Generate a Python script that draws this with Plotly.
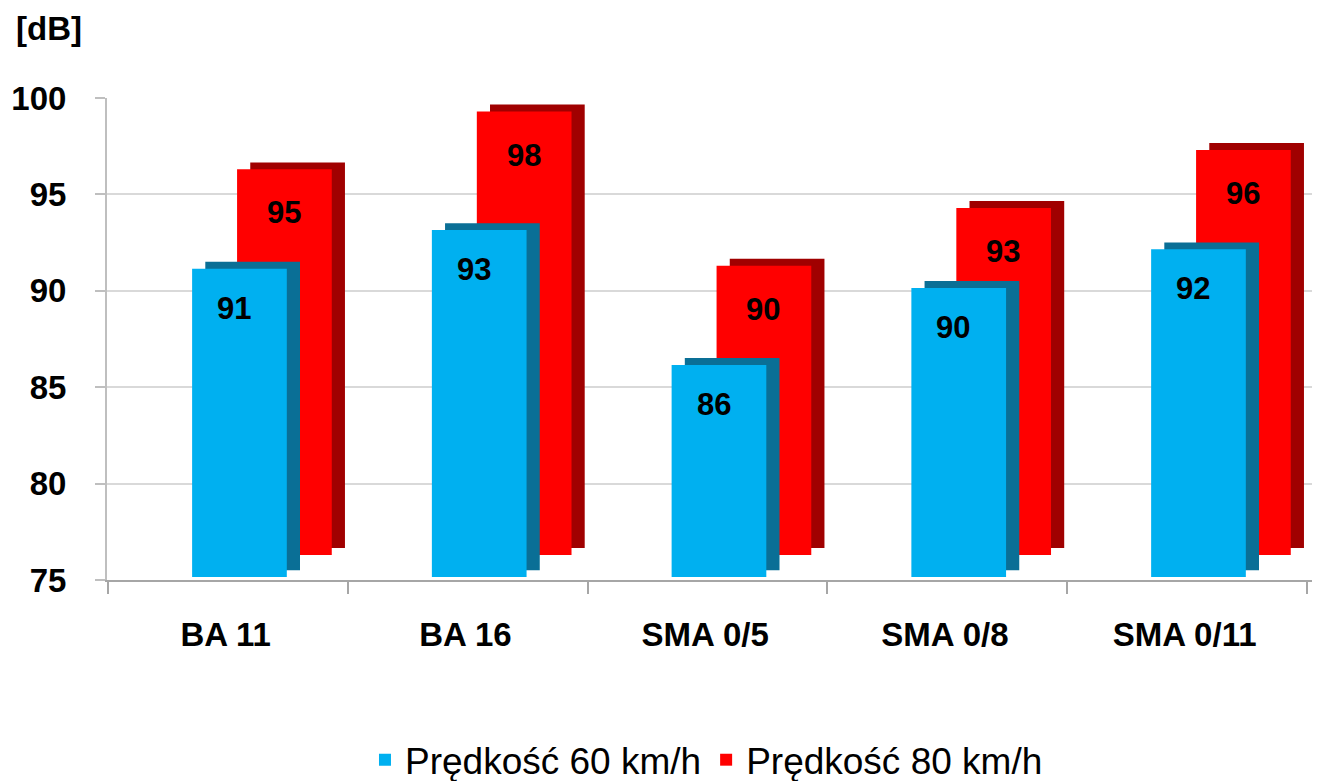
import plotly.graph_objects as go

categories = ["BA 11", "BA 16", "SMA 0/5", "SMA 0/8", "SMA 0/11"]
speed60 = [91, 93, 86, 90, 92]
speed80 = [95, 98, 90, 93, 96]
series_names = ["Prędkość 60 km/h", "Prędkość 80 km/h"]
y_ticks = [75, 80, 85, 90, 95, 100]

FONT = "Liberation Sans, Arial, sans-serif"
BLUE, BLUE_D = "#00B0F0", "#0A6F96"
RED, RED_D = "#FF0000", "#A00000"
Y0 = 75
BLUE_BASE = 75.15
RED_BASE = 76.3
DX, DY = 0.055, 0.36
W = 0.395

xs = list(range(len(categories)))
h60 = [v - Y0 for v in speed60]
h80 = [v - Y0 for v in speed80]

fig = go.Figure()
# red series (behind): depth layer then front face
fig.add_trace(go.Bar(x=xs, y=h80, base=RED_BASE + DY, offset=-0.0125 + DX, width=W,
                     marker=dict(color=RED_D, line=dict(width=0)), showlegend=False, hoverinfo="skip"))
fig.add_trace(go.Bar(x=xs, y=h80, base=RED_BASE, offset=-0.0125, width=W, name=series_names[1],
                     marker=dict(color=RED, line=dict(width=0))))
# blue series (front)
fig.add_trace(go.Bar(x=xs, y=h60, base=BLUE_BASE + DY, offset=-0.2 + DX, width=W,
                     marker=dict(color=BLUE_D, line=dict(width=0)), showlegend=False, hoverinfo="skip"))
fig.add_trace(go.Bar(x=xs, y=h60, base=BLUE_BASE, offset=-0.2, width=W, name=series_names[0],
                     marker=dict(color=BLUE, line=dict(width=0))))

annotations = []
for i, v in enumerate(speed60):
    annotations.append(dict(x=i - 0.025, y=BLUE_BASE + v - Y0 - 2.05, text=f"<b>{v}</b>", showarrow=False,
                            font=dict(family=FONT, size=31, color="black"), xref="x", yref="y"))
for i, v in enumerate(speed80):
    annotations.append(dict(x=i + 0.183, y=RED_BASE + v - Y0 - 2.26, text=f"<b>{v}</b>", showarrow=False,
                            font=dict(family=FONT, size=31, color="black"), xref="x", yref="y"))
annotations.append(dict(x=-0.077, y=1.145, xref="paper", yref="paper", xanchor="left", yanchor="middle",
                        text="<b>[dB]</b>", showarrow=False, font=dict(family=FONT, size=33, color="black")))

fig.update_layout(
    width=1328, height=773,
    margin=dict(l=99, r=24, t=90, b=201, autoexpand=False),
    paper_bgcolor="white", plot_bgcolor="white",
    barmode="overlay",
    font=dict(family=FONT, color="black"),
    showlegend=True,
    legend=dict(orientation="h", x=0.4975, xanchor="center", yref="container", y=0.027, yanchor="middle",
                font=dict(family=FONT, size=37, color="black"), traceorder="reversed"),
    xaxis=dict(range=[-0.555, 4.471], tickvals=[i - 0.06 for i in xs], ticktext=[f"<b>{c}</b>" for c in categories],
               tickfont=dict(family=FONT, size=33, color="black"), ticks="", showgrid=False, automargin=False,
               showline=True, linecolor="#A6A6A6", linewidth=2, zeroline=False, ticklabelstandoff=24,
               minor=dict(tickvals=[i - 0.55 for i in range(len(categories) + 1)], ticks="outside",
                          ticklen=12, tickcolor="#A6A6A6", tickwidth=2, showgrid=False)),
    yaxis=dict(range=[75, 100], tickvals=y_ticks, ticktext=[f"<b>{t}</b>" for t in y_ticks],
               tickfont=dict(family=FONT, size=33, color="black"), showgrid=True, gridcolor="#D9D9D9",
               gridwidth=2, ticks="outside", ticklen=10, tickcolor="#BFBFBF", tickwidth=2, automargin=False,
               showline=True, linecolor="#BFBFBF", linewidth=2, zeroline=False, ticklabelstandoff=22),
    annotations=annotations,
)

fig.write_html("out.html")
